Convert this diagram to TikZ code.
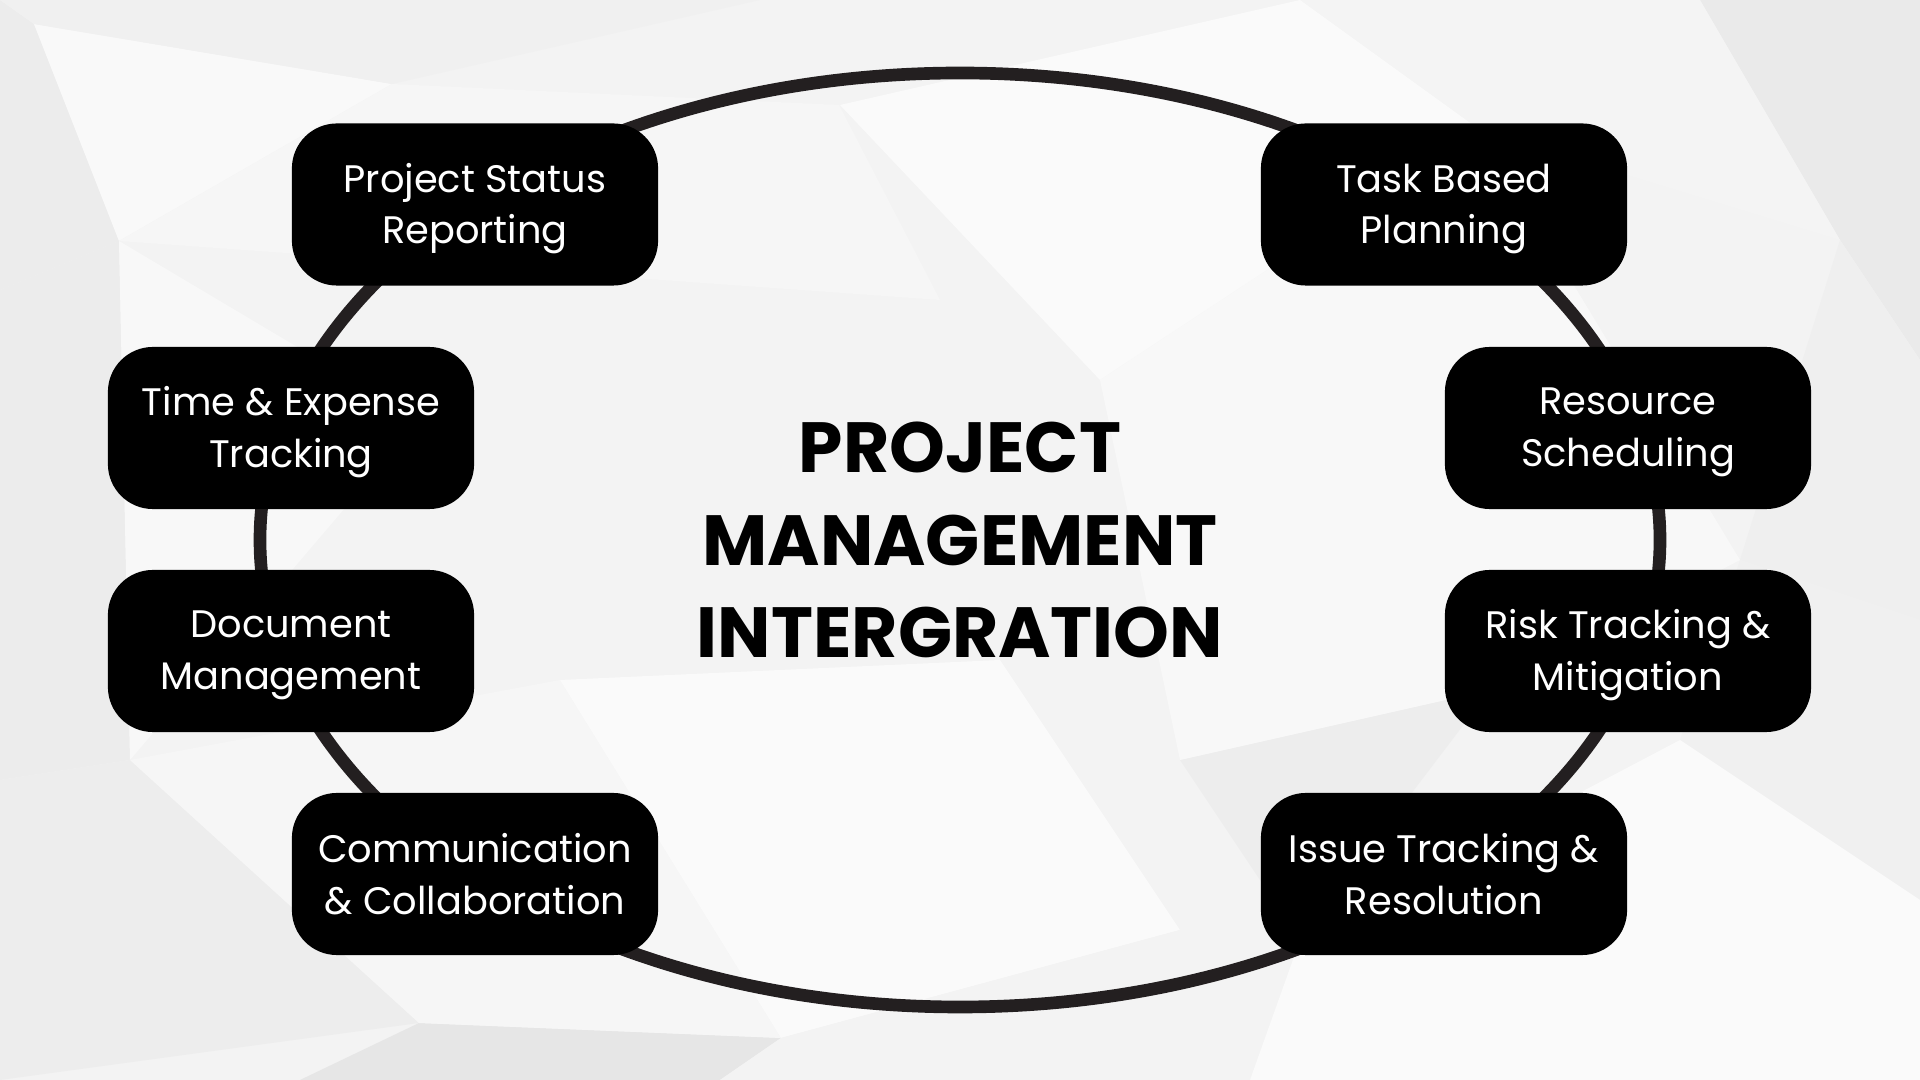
\documentclass[tikz,border=0pt]{standalone}
\usepackage{fontspec}
\setmainfont{Poppins}
\definecolor{bgbase}{HTML}{F3F3F3}
\definecolor{ringcol}{HTML}{231F20}
\begin{document}
\begin{tikzpicture}[x=0.01cm,y=-0.01cm,
  box/.style={fill=black, rounded corners=0.45cm, minimum width=3.66cm, minimum height=1.62cm, inner sep=0pt},
  boxtext/.style={text=white, align=center, inner sep=0pt, font=\fontsize{10.9}{14.6}\selectfont},
  ringline/.style={draw=ringcol, line width=3.6pt},
  title/.style={align=center, font=\fontsize{20.2}{26.2}\selectfont\bfseries, text=black},
  poly/.style={draw=none}]
\useasboundingbox (0,0) rectangle (1920,1080);
% background
\fill[bgbase] (0,0) rectangle (1920,1080);
\fill[poly, fill={rgb,255:red,236;green,236;blue,236}] (0,0) -- (34,24) -- (119,241) -- (0,290) -- cycle;
\fill[poly, fill={rgb,255:red,249;green,249;blue,249}] (34,24) -- (392,84) -- (119,241) -- cycle;
\fill[poly, fill={rgb,255:red,240;green,240;blue,240}] (0,0) -- (760,0) -- (392,84) -- (34,24) -- cycle;
\fill[poly, fill={rgb,255:red,246;green,246;blue,246}] (392,84) -- (839,105) -- (940,300) -- (119,241) -- cycle;
\fill[poly, fill={rgb,255:red,236;green,236;blue,236}] (0,290) -- (119,241) -- (130,760) -- (0,780) -- cycle;
\fill[poly, fill={rgb,255:red,248;green,248;blue,248}] (119,241) -- (420,420) -- (130,760) -- cycle;
\fill[poly, fill={rgb,255:red,234;green,234;blue,234}] (1700,0) -- (1920,0) -- (1920,360) -- (1840,240) -- cycle;
\fill[poly, fill={rgb,255:red,244;green,244;blue,244}] (1300,0) -- (1700,0) -- (1840,240) -- (1480,130) -- cycle;
\fill[poly, fill={rgb,255:red,239;green,239;blue,239}] (1840,240) -- (1920,360) -- (1920,620) -- (1740,560) -- cycle;
\fill[poly, fill={rgb,255:red,250;green,250;blue,250}] (840,105) -- (1300,0) -- (1480,130) -- (1100,380) -- cycle;
\fill[poly, fill={rgb,255:red,237;green,237;blue,237}] (0,780) -- (130,760) -- (419,1023) -- (0,1080) -- cycle;
\fill[poly, fill={rgb,255:red,230;green,230;blue,230}] (419,1023) -- (781,1038) -- (720,1080) -- (300,1080) -- cycle;
\fill[poly, fill={rgb,255:red,246;green,246;blue,246}] (130,760) -- (560,680) -- (781,1038) -- (419,1023) -- cycle;
\fill[poly, fill={rgb,255:red,250;green,250;blue,250}] (560,680) -- (1000,660) -- (1180,930) -- (781,1038) -- cycle;
\fill[poly, fill={rgb,255:red,237;green,237;blue,237}] (1180,760) -- (1490,690) -- (1300,940) -- cycle;
\fill[poly, fill={rgb,255:red,240;green,240;blue,240}] (1740,560) -- (1920,620) -- (1920,900) -- (1680,740) -- cycle;
\fill[poly, fill={rgb,255:red,250;green,250;blue,250}] (1300,940) -- (1680,740) -- (1920,900) -- (1920,1080) -- (1250,1080) -- cycle;
\fill[poly, fill={rgb,255:red,243;green,243;blue,243}] (781,1038) -- (1180,930) -- (1250,1080) -- (720,1080) -- cycle;
\fill[poly, fill={rgb,255:red,248;green,248;blue,248}] (1100,380) -- (1480,130) -- (1740,560) -- (1490,690) -- (1180,760) -- cycle;
% ring
\coordinate (center) at (960,540);
\draw[ringline] (center) ellipse [x radius=700, y radius=467];
% boxes
\node[box] (ps) at (475,204.5) {};
\node[box] (tb) at (1444,204.5) {};
\node[box] (te) at (291,428) {};
\node[box] (rs) at (1628,428) {};
\node[box] (dm) at (291,651) {};
\node[box] (rt) at (1628,651) {};
\node[box] (cc) at (475,874) {};
\node[box] (it) at (1444,874) {};
% box texts
\node[boxtext] (ps-t) at ([yshift=-1.2pt]ps.center) {Project Status\\Reporting};
\node[boxtext] (tb-t) at ([yshift=-1.2pt]tb.center) {Task Based\\Planning};
\node[boxtext] (te-t) at ([yshift=-1.2pt]te.center) {Time \& Expense\\Tracking};
\node[boxtext] (rs-t) at ([yshift=-1.2pt]rs.center) {Resource\\Scheduling};
\node[boxtext] (dm-t) at ([yshift=-1.2pt]dm.center) {Document\\Management};
\node[boxtext] (rt-t) at ([yshift=-1.2pt]rt.center) {Risk Tracking \&\\Mitigation};
\node[boxtext] (cc-t) at (cc.center) {Communication\\\& Collaboration};
\node[boxtext] (it-t) at (it.center) {Issue Tracking \&\\Resolution};
% title
\node[title] (titletext) at (center) {PROJECT\\MANAGEMENT\\INTERGRATION};
\end{tikzpicture}
\end{document}
